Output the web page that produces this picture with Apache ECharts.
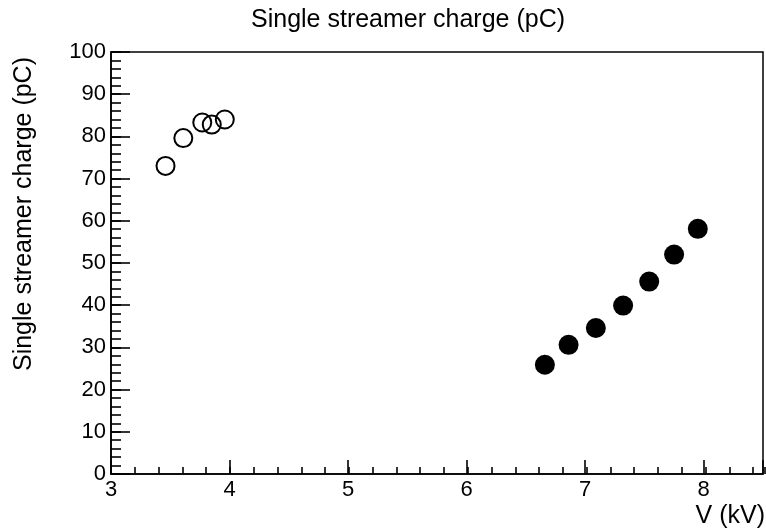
<!DOCTYPE html>
<html>
<head>
<meta charset="utf-8">
<script src="https://cdn.jsdelivr.net/npm/echarts@6/dist/echarts.min.js"></script>
<style>
  html, body { margin: 0; padding: 0; background: #fff; }
  #chart { width: 766px; height: 531px; }
</style>
</head>
<body>
<div id="chart"></div>
<script>
// Streamer charge versus applied voltage
const chartTitle = 'Single streamer charge (pC)';
const xTitle = 'V (kV)';
const yTitle = 'Single streamer charge (pC)';

// Low-voltage branch (open markers)
const openV = [3.46, 3.61, 3.77, 3.85, 3.96];
const openQ = [73.0, 79.6, 83.3, 82.8, 84.0];

// High-voltage branch (filled markers)
const filledV = [6.66, 6.86, 7.09, 7.32, 7.54, 7.75, 7.95];
const filledQ = [25.9, 30.6, 34.6, 39.9, 45.6, 52.0, 58.1];

// Axis ranges and tick steps
const xRange = [3, 8.5];
const yRange = [0, 100];
const xMajor = 1, xMinor = 0.2;
const yMajor = 10, yMinor = 2;

const FONT = 'Liberation Sans, Arial, Helvetica, sans-serif';
const plotRect = { left: 111, top: 52, right: 1, bottom: 57 };

const chart = echarts.init(document.getElementById('chart'), null, { renderer: 'canvas' });

const tickStyle = { color: '#000', width: 1.6 };

chart.setOption({
  animation: false,
  backgroundColor: '#fff',
  grid: [
    Object.assign({ show: true, borderColor: '#000', borderWidth: 1.5, backgroundColor: 'transparent', containLabel: false }, plotRect),
    Object.assign({ show: false, containLabel: false }, plotRect)
  ],
  xAxis: [
    {
      type: 'value', gridIndex: 0, min: xRange[0], max: xRange[1], interval: xMajor,
      position: 'bottom',
      axisLine: { show: true, onZero: false, lineStyle: { color: '#000', width: 1.6 } },
      axisTick: { show: true, inside: true, length: 14, lineStyle: tickStyle },
      splitLine: { show: false },
      axisLabel: {
        show: true, margin: 5, color: '#000', fontFamily: FONT, fontSize: 22,
        formatter: v => (Math.abs(v - Math.round(v)) < 1e-6 ? String(Math.round(v)) : '')
      }
    },
    {
      type: 'value', gridIndex: 1, min: xRange[0], max: xRange[1], interval: xMinor,
      position: 'bottom',
      axisLine: { show: false },
      axisTick: { show: true, inside: true, length: 7, lineStyle: tickStyle },
      splitLine: { show: false },
      axisLabel: { show: false }
    }
  ],
  yAxis: [
    {
      type: 'value', gridIndex: 0, min: yRange[0], max: yRange[1], interval: yMajor,
      position: 'left',
      axisLine: { show: true, onZero: false, lineStyle: { color: '#000', width: 1.6 } },
      axisTick: { show: true, inside: true, length: 19, lineStyle: tickStyle },
      splitLine: { show: false },
      axisLabel: { show: true, margin: 5, color: '#000', fontFamily: FONT, fontSize: 22 }
    },
    {
      type: 'value', gridIndex: 1, min: yRange[0], max: yRange[1], interval: yMinor,
      position: 'left',
      axisLine: { show: false },
      axisTick: { show: true, inside: true, length: 10, lineStyle: tickStyle },
      splitLine: { show: false },
      axisLabel: { show: false }
    }
  ],
  series: [
    {
      type: 'scatter', xAxisIndex: 0, yAxisIndex: 0,
      data: openV.map((v, i) => [v, openQ[i]]),
      symbol: 'circle', symbolSize: 18,
      itemStyle: { color: 'rgba(0,0,0,0)', borderColor: '#000', borderWidth: 2, opacity: 1 }
    },
    {
      type: 'scatter', xAxisIndex: 0, yAxisIndex: 0,
      data: filledV.map((v, i) => [v, filledQ[i]]),
      symbol: 'circle', symbolSize: 20,
      itemStyle: { color: '#000', opacity: 1 }
    }
  ],
  graphic: [
    {
      type: 'text', x: 408, y: 20,
      style: { text: chartTitle, fill: '#000', font: '25px ' + FONT, align: 'center', verticalAlign: 'middle' }
    },
    {
      type: 'text', x: 24, y: 57, rotation: Math.PI / 2,
      style: { text: yTitle, fill: '#000', font: '25px ' + FONT, align: 'right', verticalAlign: 'middle' }
    },
    {
      type: 'text', x: 765, y: 516,
      style: { text: xTitle, fill: '#000', font: '25px ' + FONT, align: 'right', verticalAlign: 'middle' }
    }
  ]
});
</script>
</body>
</html>
